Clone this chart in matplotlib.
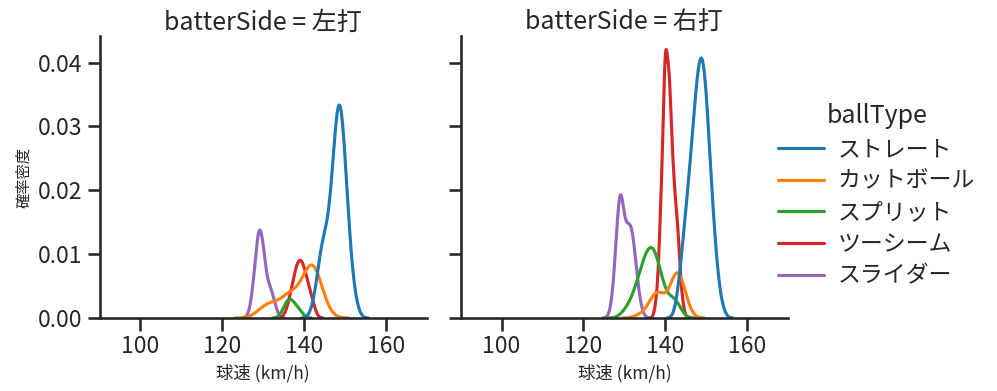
import numpy as np
import pandas as pd
import matplotlib
matplotlib.use("Agg")
import matplotlib.pyplot as plt
import seaborn as sns

sides = ["左打", "右打"]
ball_types = ["ストレート", "カットボール", "スプリット", "ツーシーム", "スライダー"]

# pitch speed (km/h) and number of pitches at that speed
# vs left-handed batters
l_straight_kmh = [142, 143, 144, 145, 146, 147, 148, 149, 150, 151, 152, 153]
l_straight_n = [1, 3, 7, 8, 9, 14, 21, 22, 15, 8, 3, 1]
l_cutter_kmh = [129, 130, 131, 132, 133, 134, 135, 136, 137, 138,
                139, 140, 141, 142, 143, 144, 145]
l_cutter_n = [1, 1, 2, 2, 1, 1, 2, 3, 3, 3, 1, 3, 7, 8, 6, 3, 1]
l_split_kmh = [135, 136, 137, 138, 139]
l_split_n = [1, 2, 2, 1, 1]
l_twoseam_kmh = [136, 137, 138, 139, 140, 141, 142]
l_twoseam_n = [1, 3, 5, 6, 5, 3, 2]
l_slider_kmh = [127, 128, 129, 130, 131, 132, 133]
l_slider_n = [1, 5, 10, 7, 3, 3, 1]

# vs right-handed batters
r_straight_kmh = [143, 144, 145, 146, 147, 148, 149, 150, 151, 152, 153, 154]
r_straight_n = [2, 6, 10, 14, 19, 24, 26, 22, 14, 8, 3, 1]
r_cutter_kmh = [134, 136, 137, 138, 139, 140, 141, 142, 143, 144, 145]
r_cutter_n = [1, 1, 3, 3, 3, 1, 1, 5, 7, 4, 2]
r_split_kmh = [130, 131, 132, 133, 134, 135, 136, 137, 138, 139, 140, 141, 142, 143]
r_split_n = [1, 1, 2, 3, 5, 6, 7, 8, 6, 4, 2, 1, 3, 2]
r_twoseam_kmh = [138, 139, 140, 141, 142, 143, 144]
r_twoseam_n = [2, 11, 27, 23, 13, 9, 2]
r_slider_kmh = [127, 128, 129, 130, 131, 132, 133, 134]
r_slider_n = [1, 7, 15, 8, 9, 9, 4, 1]

tables = {
    ("左打", "ストレート"): (l_straight_kmh, l_straight_n),
    ("左打", "カットボール"): (l_cutter_kmh, l_cutter_n),
    ("左打", "スプリット"): (l_split_kmh, l_split_n),
    ("左打", "ツーシーム"): (l_twoseam_kmh, l_twoseam_n),
    ("左打", "スライダー"): (l_slider_kmh, l_slider_n),
    ("右打", "ストレート"): (r_straight_kmh, r_straight_n),
    ("右打", "カットボール"): (r_cutter_kmh, r_cutter_n),
    ("右打", "スプリット"): (r_split_kmh, r_split_n),
    ("右打", "ツーシーム"): (r_twoseam_kmh, r_twoseam_n),
    ("右打", "スライダー"): (r_slider_kmh, r_slider_n),
}

rows = []
for (side, bt), (kmh, n) in tables.items():
    for v in np.repeat(kmh, n):
        rows.append({"batterSide": side, "ballType": bt, "speed": float(v)})
df = pd.DataFrame(rows)

sns.set_theme(context="talk", style="ticks", palette="tab10")
plt.rcParams["font.family"] = ["Noto Sans CJK JP", "DejaVu Sans"]

g = sns.displot(data=df, x="speed", hue="ballType", col="batterSide", kind="kde",
                hue_order=ball_types, col_order=sides, height=4, aspect=0.9)
g.set_axis_labels("球速 (km/h)", "確率密度", fontsize=11)
for ax in g.axes.flat:
    ax.xaxis.label.set_fontsize(12.5)
g.set_titles(pad=2)
g.set(xlim=(90, 170), xticks=[100, 120, 140, 160])

fig = g.figure
fig.set_size_inches(9.97, 3.91)
g.axes[0, 0].set_position([0.0998, 0.1867, 0.3285, 0.721])
g.axes[0, 1].set_position([0.462, 0.1867, 0.3285, 0.721])
sns.move_legend(g, "center left", bbox_to_anchor=(0.760, 0.5), frameon=False,
                labelspacing=0.38, handletextpad=0.6)

fig.savefig("out.png", dpi=100)
